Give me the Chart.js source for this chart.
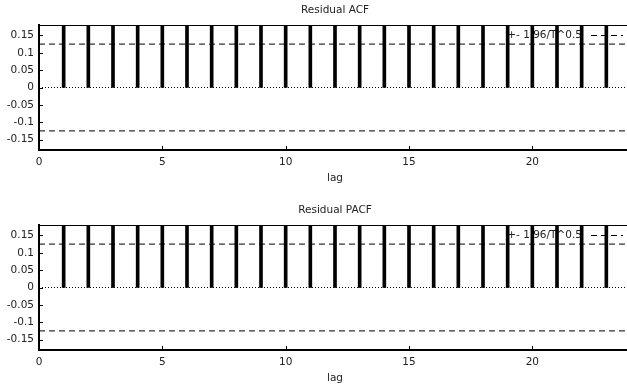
<!DOCTYPE html>
<html>
<head>
<meta charset="utf-8">
<script src="https://cdn.jsdelivr.net/npm/chart.js@4/dist/chart.umd.min.js"></script>
<style>
  html, body { margin: 0; padding: 0; background: #fff; overflow: hidden; width: 627px; height: 387px; }
  .panel { position: absolute; left: 0; }
  canvas { display: block; }
</style>
</head>
<body>
<div class="panel" style="top:0px"><canvas id="acf" width="640" height="200"></canvas></div>
<div class="panel" style="top:200px"><canvas id="pacf" width="640" height="187"></canvas></div>
<script>
// ---- data ----
const lags = [1, 2, 3, 4, 5, 6, 7, 8, 9, 10, 11, 12, 13, 14, 15, 16, 17, 18, 19, 20, 21, 22, 23];
// bars all run above the top of the plotted range (clipped at 0.18); exact heights not visible
const acfValues = [0.98, 0.96, 0.95, 0.93, 0.91, 0.90, 0.88, 0.86, 0.85, 0.83, 0.82, 0.80, 0.79, 0.77, 0.76, 0.74, 0.73, 0.71, 0.70, 0.68, 0.67, 0.66, 0.64];
const pacfValues = [0.98, 0.62, 0.55, 0.48, 0.44, 0.41, 0.38, 0.36, 0.34, 0.33, 0.31, 0.30, 0.29, 0.28, 0.27, 0.27, 0.26, 0.25, 0.25, 0.24, 0.24, 0.23, 0.23];
const bandValue = 0.125;
const bandLabel = '+- 1.96/T^0.5';
const xRange = [0, 24];
const yRange = [-0.18, 0.18];
const xTicks = [0, 5, 10, 15, 20];
const yTicks = [-0.15, -0.1, -0.05, 0, 0.05, 0.1, 0.15];
const yTickLabels = ['-0.15', '-0.1', '-0.05', '0', '0.05', '0.1', '0.15'];
const titles = ['Residual ACF', 'Residual PACF'];
const xAxisTitle = 'lag';

// ---- styles ----
const FONT = '"DejaVu Sans", sans-serif';
const FSIZE = 10.5;
const TEXT = '#222';

const decor = {
  id: 'decor',
  beforeDatasetsDraw(chart) {
    const ctx = chart.ctx, a = chart.chartArea;
    const yl = chart.scales.y.getPixelForValue(0.151);
    ctx.save();
    ctx.font = FSIZE + 'px ' + FONT;
    ctx.fillStyle = TEXT;
    ctx.textAlign = 'right';
    ctx.textBaseline = 'middle';
    ctx.fillText(bandLabel, a.right - 49, yl);
    ctx.strokeStyle = '#000';
    ctx.lineWidth = 1;
    ctx.setLineDash([6, 4]);
    ctx.beginPath();
    ctx.moveTo(a.right - 40, Math.round(yl) + 0.5);
    ctx.lineTo(a.right - 8, Math.round(yl) + 0.5);
    ctx.stroke();
    ctx.restore();
  },
  afterDraw(chart) {
    const ctx = chart.ctx, a = chart.chartArea;
    const xs = chart.scales.x, ys = chart.scales.y;
    ctx.save();
    // top border
    ctx.strokeStyle = '#000';
    ctx.lineWidth = 1;
    ctx.beginPath();
    ctx.moveTo(a.left, a.top + 0.5);
    ctx.lineTo(a.right, a.top + 0.5);
    ctx.stroke();
    // inward tick marks
    ctx.beginPath();
    yTicks.forEach(v => {
      const p = Math.round(ys.getPixelForValue(v)) + 0.5;
      ctx.moveTo(a.left, p); ctx.lineTo(a.left + 4, p);
    });
    xTicks.forEach(v => {
      if (v === xRange[0]) return;
      const p = Math.round(xs.getPixelForValue(v)) + 0.5;
      ctx.moveTo(p, a.bottom); ctx.lineTo(p, a.bottom - 4);
    });
    ctx.stroke();
    // titles
    ctx.font = FSIZE + 'px ' + FONT;
    ctx.fillStyle = TEXT;
    ctx.textAlign = 'center';
    ctx.textBaseline = 'middle';
    const cx = (a.left + a.right) / 2;
    ctx.fillText(chart.options.plugins.decor.title, cx, 10);
    ctx.fillText(xAxisTitle, cx, a.bottom + 28);
    ctx.restore();
  }
};

function makeChart(id, title, values) {
  const canvas = document.getElementById(id);
  const H = canvas.height, W = canvas.width;
  const line = (y, dash) => ({
    type: 'line',
    data: [{ x: xRange[0], y: y }, { x: xRange[1], y: y }],
    borderColor: '#000',
    borderWidth: 1,
    borderDash: dash,
    pointRadius: 0,
    fill: false,
    order: 1
  });
  return new Chart(canvas, {
    type: 'bar',
    data: {
      datasets: [
        {
          type: 'bar',
          data: lags.map((l, i) => ({ x: l, y: values[i] })),
          backgroundColor: '#000',
          borderWidth: 0,
          barThickness: 3,
          order: 0
        },
        line(bandValue, [6, 4]),
        line(-bandValue, [6, 4]),
        line(0, [1, 2])
      ]
    },
    options: {
      responsive: false,
      devicePixelRatio: 1,
      animation: false,
      events: [],
      layout: { padding: { top: 25, left: 0, right: W - 631, bottom: 0 } },
      plugins: {
        legend: { display: false },
        tooltip: { enabled: false },
        title: { display: false },
        decor: { title: title }
      },
      scales: {
        x: {
          type: 'linear',
          min: xRange[0],
          max: xRange[1],
          offset: false,
          grid: { display: false, drawTicks: false },
          border: { display: true, color: '#000', width: 2 },
          afterBuildTicks: s => { s.ticks = xTicks.map(v => ({ value: v })); },
          afterFit: s => { s.height = H - 150; },
          ticks: {
            autoSkip: false, maxRotation: 0, padding: 6,
            color: TEXT, font: { family: FONT, size: FSIZE },
            callback: v => String(v)
          }
        },
        y: {
          type: 'linear',
          min: yRange[0],
          max: yRange[1],
          grid: { display: false, drawTicks: false },
          border: { display: true, color: '#000', width: 2 },
          afterBuildTicks: s => { s.ticks = yTicks.map(v => ({ value: v })); },
          afterFit: s => { s.width = 39; },
          ticks: {
            autoSkip: false, padding: 5,
            color: TEXT, font: { family: FONT, size: FSIZE },
            callback: (v, i) => yTickLabels[i]
          }
        }
      }
    },
    plugins: [decor]
  });
}

makeChart('acf', titles[0], acfValues);
makeChart('pacf', titles[1], pacfValues);
</script>
</body>
</html>
